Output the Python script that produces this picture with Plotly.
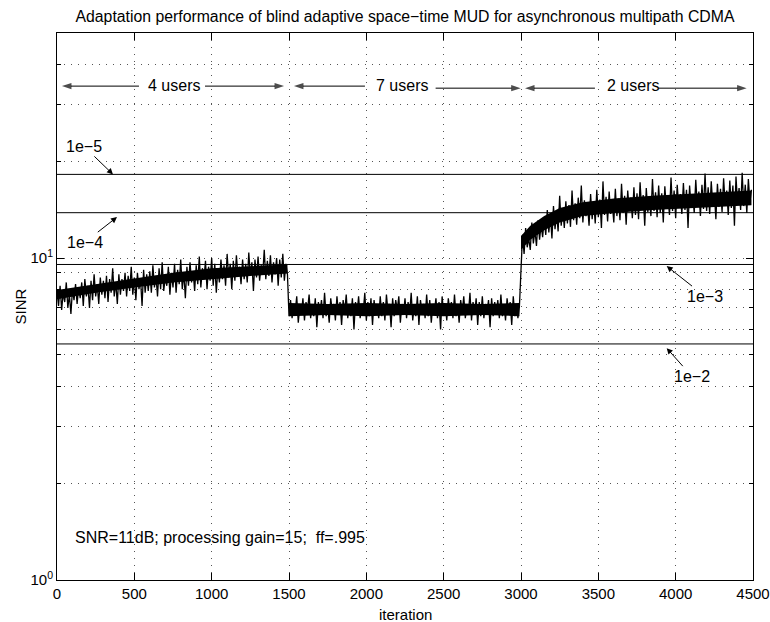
import math
import plotly.graph_objects as go

# ---------------- data ----------------
iter_step = 10
sinr_4users = [
    7.9, 7.1, 8.2, 6.9, 7.8, 7.3, 8.4, 7.0, 7.7, 6.7, 8.0, 7.4, 8.3, 7.2, 8.1,
    7.5, 8.4, 7.1, 8.6, 7.6, 8.2, 7.0, 8.5, 7.4, 8.9, 7.6, 8.3, 7.2, 8.7, 7.7,
    8.5, 7.5, 8.8, 7.3, 8.6, 7.8, 9.3, 7.6, 8.4, 7.2, 8.9, 7.7, 8.6, 7.9, 9.0,
    7.6, 8.8, 7.9, 9.4, 7.7, 8.7, 7.4, 9.0, 8.0, 8.6, 7.1, 9.2, 7.8, 8.9, 7.9,
    9.1, 7.8, 9.5, 8.1, 8.8, 7.6, 9.3, 8.0, 9.7, 7.9, 8.7, 8.2, 9.4, 7.7, 9.0,
    8.1, 9.6, 7.8, 9.2, 8.3, 9.9, 8.0, 9.0, 7.5, 9.4, 8.2, 9.7, 8.4, 9.1, 7.9,
    9.5, 8.3, 10.1, 8.1, 9.3, 8.6, 9.8, 8.0, 9.4, 8.5, 10.0, 8.2, 9.6, 7.8, 9.3,
    8.4, 9.9, 8.6, 9.5, 8.2, 10.3, 8.7, 9.6, 8.0, 9.8, 8.5, 10.2, 8.8, 9.4, 8.3,
    9.9, 8.6, 9.6, 8.4, 10.4, 8.8, 9.7, 7.9, 9.9, 8.7, 10.1, 8.5, 9.5, 8.9, 10.6,
    8.6, 9.8, 8.8, 10.2, 8.4, 9.7, 8.9, 10.0, 8.2, 9.9, 8.7, 10.3, 8.5, 9.6, 8.9,
]
sinr_7users = [
    6.6, 7.4, 6.5, 7.2, 6.8, 7.6, 6.3, 7.1, 6.7, 7.5, 6.4, 7.3, 6.9, 7.7, 6.5,
    7.2, 6.6, 7.5, 6.1, 7.3, 6.7, 7.4, 6.5, 7.8, 6.6, 7.1, 6.3, 7.5, 6.8, 7.2,
    6.4, 7.6, 6.7, 7.3, 6.2, 7.4, 6.8, 7.7, 6.5, 7.2, 6.6, 7.5, 6.0, 7.3, 6.7,
    7.6, 6.5, 7.2, 6.8, 7.8, 6.4, 7.3, 6.6, 7.5, 6.2, 7.4, 6.7, 7.1, 6.5, 7.6,
    6.6, 7.3, 6.4, 7.7, 6.8, 7.2, 6.1, 7.5, 6.6, 7.4, 6.9, 7.6, 6.3, 7.2, 6.7,
    7.5, 6.5, 7.3, 6.7, 7.8, 6.4, 7.1, 6.6, 7.6, 6.2, 7.4, 6.8, 7.2, 6.5, 7.7,
    6.6, 7.4, 6.3, 7.2, 6.8, 7.5, 6.5, 7.3, 6.0, 7.6, 6.7, 7.2, 6.4, 7.5, 6.8,
    7.3, 6.5, 7.7, 6.6, 7.2, 6.3, 7.4, 6.8, 7.6, 6.5, 7.1, 6.7, 7.8, 6.4, 7.3,
    6.7, 7.5, 6.2, 7.3, 6.6, 7.6, 6.5, 7.2, 6.8, 7.4, 6.1, 7.5, 6.6, 7.3, 6.7,
    7.4, 6.5, 7.7, 6.6, 7.2, 6.4, 7.5, 6.8, 7.3, 6.2, 7.6, 6.6, 7.2, 6.5, 7.1,
]
sinr_2users = [
    9.2, 11.8, 10.3, 12.4, 10.8, 11.5, 10.6, 12.9, 11.1, 12.2, 10.9, 13.1, 11.4, 12.7, 11.6,
    13.3, 11.8, 14.1, 12.0, 13.6, 11.5, 14.5, 12.3, 13.8, 12.1, 15.6, 12.6, 14.2, 12.4, 15.0,
    12.8, 14.6, 12.5, 16.2, 13.1, 14.8, 12.7, 15.4, 13.3, 16.8, 12.9, 15.1, 13.5, 14.7, 12.6,
    15.8, 13.2, 14.9, 12.8, 16.3, 13.4, 15.2, 12.4, 17.3, 13.6, 15.5, 13.0, 16.1, 13.7, 14.8,
    12.9, 16.4, 13.5, 15.3, 13.1, 17.0, 13.8, 15.6, 12.7, 16.2, 14.0, 15.4, 13.3, 16.6, 13.6,
    15.9, 13.2, 17.2, 14.1, 15.7, 12.6, 16.5, 13.9, 15.4, 13.5, 17.6, 14.0, 16.0, 13.4, 16.8,
    13.8, 15.9, 12.9, 16.7, 14.2, 15.6, 13.6, 17.8, 14.0, 16.2, 13.3, 16.9, 14.4, 15.8, 13.7,
    17.1, 14.1, 16.3, 12.4, 16.8, 14.3, 15.7, 13.8, 17.5, 14.5, 16.1, 13.5, 16.9, 14.2, 18.3,
    14.0, 16.6, 13.7, 17.3, 14.6, 15.9, 13.2, 17.0, 14.4, 16.4, 13.9, 17.7, 14.7, 16.2, 13.6,
    17.4, 14.3, 16.8, 12.6, 17.9, 14.8, 16.5, 14.1, 18.4, 14.5, 16.9, 13.8, 17.6, 14.9, 16.3,
]
sinr = sinr_4users + sinr_7users + sinr_2users
iterations = [i * iter_step for i in range(len(sinr))]

# dense core of the noisy SINR trace
core_iter = [
    [0, 250, 500, 750, 1000, 1250, 1490],
    [1500, 1750, 2000, 2250, 2500, 2750, 2990],
    [3000, 3060, 3150, 3250, 3400, 3600, 3850, 4150, 4490],
]
core_low = [
    [7.45, 7.8, 8.1, 8.4, 8.6, 8.8, 8.95],
    [6.6, 6.65, 6.6, 6.65, 6.6, 6.65, 6.6],
    [10.6, 11.4, 12.2, 12.9, 13.5, 13.8, 14.1, 14.3, 14.6],
]
core_high = [
    [7.95, 8.3, 8.65, 9.0, 9.3, 9.45, 9.55],
    [7.25, 7.2, 7.25, 7.2, 7.25, 7.2, 7.25],
    [11.7, 12.6, 13.5, 14.3, 14.9, 15.3, 15.6, 15.9, 16.2],
]

# SINR needed for a given BER
ber_labels = ["1e\u22125", "1e\u22124", "1e\u22123", "1e\u22122"]
ber_sinr = [18.19, 13.83, 9.55, 5.41]
ber_arrow_x = [362, 388, 3942, 3942]
ber_arrow_y = [18.19, 13.4, 9.44, 5.25]
ber_text_dx = [-29, -32, 38, 25]
ber_text_dy = [-28, 25, 30, 28]

user_labels = ["4 users", "7 users", "2 users"]
user_text_x = [756, 2229, 3724]
user_text_y = [34.3, 34.3, 34.3]
# (head_x, tail_x, y) for the region arrows
user_arrows = [
    (32, 530, 34.2), (1468, 957, 34.2),
    (1532, 1991, 34.2), (2998, 2448, 33.7),
    (3026, 3478, 33.7), (4459, 3886, 33.7),
]

x_ticks = [0, 500, 1000, 1500, 2000, 2500, 3000, 3500, 4000, 4500]
y_major = [1, 10]
y_major_text = ["10<sup>0</sup>", "10<sup>1</sup>"]
y_minor = [2, 3, 4, 5, 6, 7, 8, 9, 20, 30, 40]

FONT = "Liberation Sans, Arial, Helvetica, sans-serif"
FS = 16
FS_TICK = 15
GRIDDASH = "1px,6px"
GRIDCOL = "#555555"

fig = go.Figure()

for xs, lo, hi in zip(core_iter, core_low, core_high):
    fig.add_trace(go.Scatter(
        x=xs + xs[::-1], y=hi + lo[::-1], mode="lines", fill="toself",
        fillcolor="black", line=dict(color="black", width=0),
        showlegend=False, hoverinfo="skip",
    ))

fig.add_trace(go.Scatter(
    x=iterations, y=sinr, mode="lines",
    line=dict(color="black", width=1.3), showlegend=False, hoverinfo="skip",
))

for lvl in ber_sinr:
    fig.add_trace(go.Scatter(
        x=[0, 4500], y=[lvl, lvl], mode="lines",
        line=dict(color="black", width=1), showlegend=False, hoverinfo="skip",
    ))

for hx, tx, yy in user_arrows:
    fig.add_trace(go.Scatter(
        x=[tx, hx], y=[yy, yy], mode="lines+markers",
        line=dict(color="black", width=1),
        marker=dict(symbol="arrow", angleref="previous", size=[0, 10], color="black",
                    line=dict(width=0)),
        showlegend=False, hoverinfo="skip",
    ))

annotations = []
for lab, hx, hy, dx, dy in zip(ber_labels, ber_arrow_x, ber_arrow_y, ber_text_dx, ber_text_dy):
    annotations.append(dict(
        x=hx, y=math.log10(hy), xref="x", yref="y", text=lab,
        showarrow=True, ax=dx, ay=dy, arrowhead=2, arrowsize=1.2, arrowwidth=1,
        arrowcolor="black", font=dict(family=FONT, size=FS, color="black"),
    ))

for lab, tx, ty in zip(user_labels, user_text_x, user_text_y):
    annotations.append(dict(
        x=tx, y=math.log10(ty), xref="x", yref="y", text=lab, showarrow=False,
        font=dict(family=FONT, size=FS, color="black"),
    ))

annotations.append(dict(
    x=103, y=math.log10(1.36), xref="x", yref="y", xanchor="left",
    text="SNR=11dB; processing gain=15;  ff=.995", showarrow=False,
    font=dict(family=FONT, size=FS, color="black"),
))

# axis titles
annotations.append(dict(
    x=-37 / 696, y=0.5, xref="paper", yref="paper", text="SINR", textangle=-90,
    showarrow=False, xanchor="center", yanchor="middle",
    font=dict(family=FONT, size=FS_TICK, color="black"),
))
annotations.append(dict(
    x=0.5, y=-34 / 547, xref="paper", yref="paper", text="iteration",
    showarrow=False, xanchor="center", yanchor="middle",
    font=dict(family=FONT, size=FS_TICK, color="black"),
))

fig.update_layout(
    width=770, height=622,
    margin=dict(l=57, r=17, t=33, b=42),
    paper_bgcolor="white", plot_bgcolor="white",
    font=dict(family=FONT, size=FS_TICK, color="black"),
    title=dict(
        text="Adaptation performance of blind adaptive space\u2212time MUD for asynchronous multipath CDMA",
        x=0.5, xref="paper", xanchor="center", y=1 - 16 / 622, yref="container",
        yanchor="middle", font=dict(family=FONT, size=15.8, color="black"),
    ),
    annotations=annotations,
)

fig.update_xaxes(
    range=[0, 4500], tickvals=x_ticks, ticks="inside", ticklen=7, tickcolor="black",
    showline=True, linecolor="black", linewidth=1, mirror="ticks",
    showgrid=True, gridcolor=GRIDCOL, griddash=GRIDDASH, gridwidth=1,
    zeroline=False, automargin=False, tickfont=dict(size=FS_TICK),
    ticklabeloverflow="allow",
)

fig.update_yaxes(
    type="log", range=[0, math.log10(50)],
    tickvals=y_major, ticktext=y_major_text, ticks="inside", ticklen=7, tickcolor="black",
    showline=True, linecolor="black", linewidth=1, mirror="ticks",
    showgrid=True, gridcolor=GRIDCOL, griddash=GRIDDASH, gridwidth=1,
    minor=dict(tickvals=y_minor, ticks="inside", ticklen=4, tickcolor="black",
               showgrid=True, gridcolor=GRIDCOL, griddash=GRIDDASH, gridwidth=1),
    zeroline=False, automargin=False, tickfont=dict(size=FS_TICK),
    ticklabeloverflow="allow",
)

fig.write_html("out.html")
